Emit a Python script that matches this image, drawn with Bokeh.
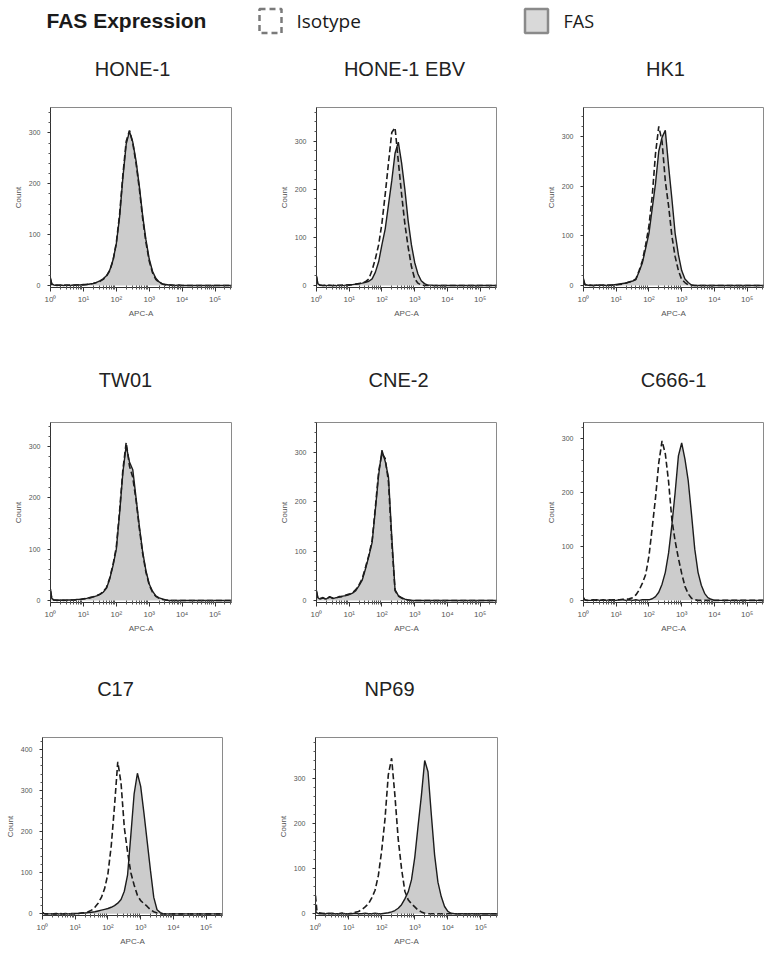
import math
from bokeh.plotting import figure
from bokeh.layouts import column, row
from bokeh.models import Range1d, FixedTicker
from bokeh.core.properties import value
from bokeh.embed import file_html
from bokeh.resources import INLINE

# ---------------- data ----------------
# x positions in decades of APC-A fluorescence (10^0 ... 10^5)
DECADES = [0.0, 0.04, 0.1, 0.2, 0.3, 0.4, 0.5, 0.6, 0.7, 0.8, 0.9,
           1.0, 1.1, 1.2, 1.3, 1.4, 1.5, 1.6, 1.7, 1.8, 1.9,
           2.0, 2.1, 2.2, 2.3, 2.4, 2.5, 2.6, 2.7, 2.8, 2.9,
           3.0, 3.1, 3.2, 3.3, 3.4, 3.5, 3.6, 3.7, 3.8, 3.9,
           4.0, 4.1, 4.2, 5.5]

CELL_LINES = ["HONE-1", "HONE-1 EBV", "HK1", "TW01", "CNE-2", "C666-1", "C17", "NP69"]

HONE1_FAS = [15, 3, 1, 0, 1, 0, 1, 0, 1, 1, 1,
             2, 2, 3, 4, 6, 9, 13, 19, 30, 50,
             82, 135, 212, 278, 303, 282, 245, 195, 138, 90,
             52, 28, 14, 7, 3, 2, 1, 1, 0, 1,
             0, 0, 0, 0]
HONE1_ISO = [12, 2, 0, 1, 0, 1, 0, 1, 0, 1, 1,
             1, 2, 3, 4, 6, 8, 12, 18, 29, 49,
             84, 140, 218, 283, 305, 280, 240, 190, 132, 85,
             48, 25, 12, 6, 3, 1, 1, 0, 0, 0,
             0, 0, 0, 0]

EBV_FAS = [20, 4, 1, 0, 0, 1, 0, 0, 1, 0, 1,
           2, 2, 3, 4, 5, 7, 9, 14, 28, 50,
           85, 118, 168, 218, 275, 298, 255, 200, 135, 85,
           48, 24, 10, 4, 1, 1, 0, 0, 0, 0,
           0, 0, 0, 0]
EBV_ISO = [18, 3, 1, 0, 1, 0, 0, 1, 0, 1, 1,
           1, 2, 3, 4, 6, 8, 14, 32, 56, 85,
           130, 190, 255, 318, 328, 258, 190, 128, 80, 40,
           14, 5, 1, 0, 0, 0, 0, 0, 0, 0,
           0, 0, 0, 0]

HK1_FAS = [14, 3, 1, 0, 0, 1, 0, 1, 0, 1, 1,
           2, 3, 4, 5, 7, 9, 12, 28, 46, 75,
           105, 155, 205, 270, 298, 312, 240, 175, 105, 62,
           30, 13, 6, 1, 0, 0, 0, 0, 0, 0,
           0, 0, 0, 0]
HK1_ISO = [10, 2, 0, 1, 0, 0, 1, 0, 1, 0, 1,
           1, 2, 3, 5, 7, 9, 13, 30, 50, 82,
           120, 180, 265, 320, 290, 210, 160, 100, 58, 30,
           12, 6, 1, 0, 0, 0, 0, 0, 0, 0,
           0, 0, 0, 0]

TW01_FAS = [22, 4, 1, 0, 1, 0, 1, 1, 1, 2, 2,
            3, 4, 6, 7, 9, 12, 16, 24, 42, 68,
            100, 170, 250, 302, 270, 255, 200, 145, 95, 58,
            32, 18, 9, 5, 3, 1, 0, 0, 0, 0,
            0, 0, 0, 0]
TW01_ISO = [18, 3, 1, 1, 0, 1, 0, 1, 1, 1, 2,
            3, 4, 5, 7, 9, 12, 17, 25, 44, 70,
            104, 175, 255, 308, 262, 240, 195, 140, 92, 55,
            30, 16, 8, 4, 2, 1, 0, 0, 0, 0,
            0, 0, 0, 0]

CNE2_FAS = [20, 6, 3, 5, 3, 8, 4, 6, 7, 9, 10,
            12, 15, 20, 30, 42, 65, 90, 118, 185, 255,
            305, 282, 250, 130, 22, 10, 6, 3, 1, 0,
            0, 0, 0, 0, 0, 0, 0, 0, 0, 0,
            0, 0, 0, 0]
CNE2_ISO = [18, 5, 4, 6, 2, 7, 5, 5, 8, 8, 11,
            13, 16, 22, 32, 45, 68, 92, 122, 190, 262,
            298, 288, 240, 118, 20, 9, 5, 2, 1, 0,
            0, 0, 0, 0, 0, 0, 0, 0, 0, 0,
            0, 0, 0, 0]

C666_FAS = [4, 1, 0, 0, 0, 1, 0, 0, 0, 1, 0,
            0, 1, 1, 0, 1, 0, 1, 0, 1, 1,
            1, 3, 7, 15, 30, 52, 88, 140, 200, 268,
            292, 262, 222, 160, 95, 52, 28, 13, 5, 2,
            0, 0, 0, 0]
C666_ISO = [5, 1, 0, 0, 1, 0, 0, 1, 0, 0, 1,
            1, 1, 2, 2, 3, 5, 10, 19, 32, 48,
            82, 135, 190, 255, 296, 272, 220, 150, 110, 78,
            50, 26, 12, 4, 1, 0, 0, 0, 0, 0,
            0, 0, 0, 0]

C17_FAS = [4, 1, 0, 0, 0, 1, 0, 0, 1, 0, 1,
           1, 1, 2, 2, 3, 4, 5, 7, 9, 11,
           13, 16, 20, 26, 35, 55, 95, 192, 292, 342,
           310, 245, 175, 105, 40, 10, 3, 0, 0, 0,
           0, 0, 0, 0]
C17_ISO = [3, 1, 0, 0, 0, 0, 1, 0, 0, 0, 0,
           0, 1, 2, 3, 5, 9, 16, 26, 40, 62,
           98, 165, 262, 370, 318, 210, 150, 100, 70, 45,
           32, 25, 18, 10, 5, 2, 0, 0, 0, 0,
           0, 0, 0, 0]

NP69_FAS = [6, 2, 0, 0, 0, 1, 0, 0, 0, 1, 0,
            0, 0, 1, 0, 0, 1, 0, 0, 1, 0,
            0, 1, 2, 4, 7, 12, 20, 33, 48, 75,
            125, 195, 262, 340, 315, 220, 130, 70, 38, 16,
            5, 1, 0, 0]
NP69_ISO = [40, 8, 2, 1, 0, 0, 1, 0, 0, 1, 0,
            0, 1, 3, 5, 9, 15, 22, 35, 52, 85,
            140, 210, 308, 345, 262, 165, 100, 50, 31, 22,
            15, 8, 4, 1, 0, 0, 0, 0, 0, 0,
            0, 0, 0, 0]

Y_MAX = [350, 370, 358, 347, 361, 330, 429, 391]
Y_TICKS_3 = [0, 100, 200, 300]
Y_TICKS_4 = [0, 100, 200, 300, 400]
X_TICKS = [0, 1, 2, 3, 4, 5]
X_TICK_LABELS = ["10\u2070", "10\u00b9", "10\u00b2", "10\u00b3", "10\u2074", "10\u2075"]
LEGEND_LABELS = ["Isotype", "FAS"]
HEADER = "FAS Expression"

SERIES = [(HONE1_FAS, HONE1_ISO), (EBV_FAS, EBV_ISO), (HK1_FAS, HK1_ISO),
          (TW01_FAS, TW01_ISO), (CNE2_FAS, CNE2_ISO), (C666_FAS, C666_ISO),
          (C17_FAS, C17_ISO), (NP69_FAS, NP69_ISO)]

# ---------------- styling ----------------
FILL = "#cccccc"
LINE = "#1c1c1c"
FONT = "Liberation Sans"
X_END = 5.5
X_MINOR = [d + math.log10(k) for d in range(6) for k in range(2, 10) if d + math.log10(k) < X_END]
W_TOTAL = 764


def strip(height):
    s = figure(width=W_TOTAL, height=height, x_range=Range1d(0, W_TOTAL), y_range=Range1d(0, height),
               output_backend="svg", toolbar_location=None, min_border=0,
               x_axis_location=None, y_axis_location=None)
    s.grid.visible = False
    s.outline_line_color = None
    return s


def title_text(s, xs, ys, texts):
    s.text(x=xs, y=ys, text=texts, text_font=value(FONT), text_font_size="20px",
           text_align="center", text_baseline="middle", text_color="#222222")


def panel(i, width, height, bl, br, bt, bb):
    fas, iso = SERIES[i]
    ymax = Y_MAX[i]
    p = figure(width=width, height=height, x_range=Range1d(0, X_END), y_range=Range1d(-4, ymax),
               output_backend="svg", toolbar_location=None,
               min_border_left=bl, min_border_right=br, min_border_top=bt, min_border_bottom=bb)
    p.grid.visible = False
    p.outline_line_color = "#8a8a8a"
    p.outline_line_width = 1
    p.varea(x=DECADES, y1=[0] * len(DECADES), y2=fas, fill_color=FILL)
    p.line(DECADES, fas, line_color=LINE, line_width=1.4)
    p.line(DECADES, iso, line_color=LINE, line_width=1.6, line_dash="6 3")

    yt = Y_TICKS_4 if ymax > 400 else Y_TICKS_3
    yminor = [v for v in range(0, int(ymax), 20) if v not in yt]
    xa = p.xaxis[0]
    xa.ticker = FixedTicker(ticks=X_TICKS, minor_ticks=X_MINOR)
    xa.major_label_overrides = {t: l for t, l in zip(X_TICKS, X_TICK_LABELS)}
    xa.axis_label = "APC-A"
    xa.major_tick_out = 4
    xa.major_tick_in = 0
    xa.minor_tick_out = 2
    xa.minor_tick_in = 2
    xa.major_label_standoff = 3
    xa.axis_label_standoff = 2

    ya = p.yaxis[0]
    ya.ticker = FixedTicker(ticks=yt, minor_ticks=yminor)
    ya.axis_label = "Count"
    ya.major_tick_out = 3
    ya.major_tick_in = 0
    ya.minor_tick_out = 2
    ya.minor_tick_in = 0
    ya.major_label_standoff = 7
    ya.axis_label_standoff = 3

    for ax in (xa, ya):
        ax.axis_line_color = "#333333"
        ax.major_tick_line_color = "#333333"
        ax.minor_tick_line_color = "#555555"
        ax.major_label_text_font = FONT
        ax.major_label_text_color = "#555555"
        ax.axis_label_text_font = FONT
        ax.axis_label_text_font_size = "8px"
        ax.axis_label_text_font_style = "normal"
        ax.axis_label_text_color = "#555555"
    xa.major_label_text_font_size = "8px"
    ya.major_label_text_font_size = "7px"
    return p


# ---------------- header + row 1 titles ----------------
s1 = strip(97)
s1.text(x=[46], y=[77], text=[HEADER], text_font=value(FONT), text_font_style="bold",
        text_font_size="21px", text_align="left", text_baseline="middle", text_color="#1a1a1a")
s1.rect(x=[270], y=[76.5], width=22, height=24, fill_color=None, line_color="#7a7a7a",
        line_width=2.5, line_dash="6 4")
s1.text(x=[296], y=[77], text=[LEGEND_LABELS[0]], text_font=value("Open Sans"),
        text_font_size="19px", text_align="left", text_baseline="middle", text_color="#1a1a1a")
s1.rect(x=[536], y=[76.5], width=23, height=24, fill_color="#d9d9d9", line_color="#8a8a8a",
        line_width=2.5)
s1.text(x=[563], y=[77], text=[LEGEND_LABELS[1]], text_font=value("Open Sans"),
        text_font_size="18px", text_align="left", text_baseline="middle", text_color="#1a1a1a")
title_text(s1, [132, 404, 665], [29, 29, 29], CELL_LINES[0:3])

r1 = row(panel(0, 270, 263, 50, 39, 10, 73),
         panel(1, 270, 263, 46, 44, 10, 73),
         panel(2, 224, 263, 43, 1, 10, 73))

s2 = strip(45)
title_text(s2, [125, 398, 673], [26, 26, 26], CELL_LINES[3:6])

r2 = row(panel(3, 270, 265, 50, 39, 17, 68),
         panel(4, 270, 265, 46, 44, 17, 68),
         panel(5, 224, 265, 43, 1, 17, 68))

s3 = strip(52)
title_text(s3, [115, 389], [34, 34], CELL_LINES[6:8])

r3 = row(panel(6, 270, 226, 42, 48, 15, 31),
         panel(7, 270, 226, 45, 43, 15, 31))

layout = column(s1, r1, s2, r2, s3, r3)

open("out.html", "w").write(file_html(layout, INLINE))
